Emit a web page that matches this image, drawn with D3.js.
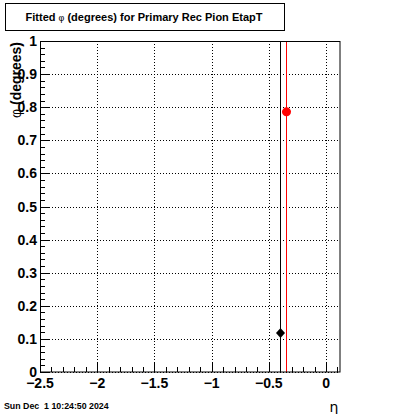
<!DOCTYPE html>
<html><head><meta charset="utf-8">
<script src="https://cdn.jsdelivr.net/npm/d3@7"></script>
<style>body{margin:0;background:#fff;} svg{display:block;}</style>
</head><body>
<script>
const title = "Fitted ";
const xTicks = [-2.5, -2, -1.5, -1, -0.5, 0];
const yTicks = [0, 0.1, 0.2, 0.3, 0.4, 0.5, 0.6, 0.7, 0.8, 0.9, 1];
const seriesNames = ["black", "red"];
const etaValues = [-0.405, -0.352];
const phiValues = [0.118, 0.786];
const phiErrors = [5, 5];
const colors = ["#000000", "#ff0000"];
const markers = ["diamond", "circle"];

const W = 400, H = 414;
const m = {l: 40, r: 60, t: 41, b: 42};
const svg = d3.select("body").append("svg").attr("width", W).attr("height", H);
svg.append("rect").attr("width", W).attr("height", H).attr("fill", "#fff");

const x = d3.scaleLinear().domain([-2.5, 0.122]).range([m.l, W - m.r]);
const y = d3.scaleLinear().domain([0, 1]).range([H - m.b, m.t]);

// title box
svg.append("rect").attr("x", 5.5).attr("y", 3.5).attr("width", 279).attr("height", 27)
  .attr("fill", "#fff").attr("stroke", "#000").attr("stroke-width", 1);
const tt = svg.append("text").attr("x", 144).attr("y", 21).attr("text-anchor", "middle")
  .attr("font-family", "Liberation Sans, Arial, sans-serif").attr("font-weight", "bold").attr("font-size", 11);
tt.append("tspan").text(title);
tt.append("tspan").attr("font-weight", "normal").attr("font-size", 9).text("φ");
tt.append("tspan").text(" (degrees) for Primary Rec Pion EtapT");

// grid
const g = svg.append("g");
g.selectAll(".gx").data(xTicks).join("line")
  .attr("x1", d => Math.round(x(d)) + 0.5).attr("x2", d => Math.round(x(d)) + 0.5)
  .attr("y1", y(1)).attr("y2", y(0))
  .attr("stroke", "#000").attr("stroke-dasharray", "1,2").attr("stroke-width", 1);
g.selectAll(".gy").data(yTicks).join("line")
  .attr("y1", d => Math.round(y(d)) + 0.5).attr("y2", d => Math.round(y(d)) + 0.5)
  .attr("x1", x.range()[0]).attr("x2", x.range()[1])
  .attr("stroke", "#000").attr("stroke-dasharray", "1,2").attr("stroke-width", 1);

// clip
svg.append("clipPath").attr("id", "clip").append("rect")
  .attr("x", m.l).attr("y", m.t).attr("width", W - m.l - m.r).attr("height", H - m.t - m.b);

const data = etaValues.map((e, i) => ({eta: e, phi: phiValues[i], err: phiErrors[i], c: colors[i], mk: markers[i]}));
const pg = svg.append("g").attr("clip-path", "url(#clip)");
pg.selectAll(".eb").data(data).join("line")
  .attr("x1", d => Math.round(x(d.eta)) + 0.5).attr("x2", d => Math.round(x(d.eta)) + 0.5)
  .attr("y1", d => y(d.phi - d.err)).attr("y2", d => y(d.phi + d.err))
  .attr("stroke", d => d.c).attr("stroke-width", 1);
pg.selectAll(".mk").data(data).join("path")
  .attr("transform", d => `translate(${Math.round(x(d.eta)) + 0.5},${y(d.phi)})`)
  .attr("d", d => d.mk === "circle" ? d3.symbol(d3.symbolCircle, 64)() :
        "M0,-5L4.5,0L0,5L-4.5,0Z")
  .attr("fill", d => d.c);

// frame
svg.append("rect").attr("x", m.l + 0.5).attr("y", m.t + 0.5)
  .attr("width", W - m.l - m.r - 0.5).attr("height", H - m.t - m.b - 0.5)
  .attr("fill", "none").attr("stroke", "#000").attr("stroke-width", 1);

// ticks
const xMinor = d3.range(-25, 2).map(i => i / 10);
svg.selectAll(".xt").data(xMinor).join("line")
  .attr("x1", d => Math.round(x(d)) + 0.5).attr("x2", d => Math.round(x(d)) + 0.5)
  .attr("y1", y(0)).attr("y2", d => y(0) - (Math.abs(d * 2 - Math.round(d * 2)) < 1e-6 ? 10 : 5))
  .attr("stroke", "#000");
const yMinor = d3.range(0, 51).map(i => i / 50);
svg.selectAll(".yt").data(yMinor).join("line")
  .attr("y1", d => Math.round(y(d)) + 0.5).attr("y2", d => Math.round(y(d)) + 0.5)
  .attr("x1", x.range()[0]).attr("x2", d => x.range()[0] + (Math.abs(d * 10 - Math.round(d * 10)) < 1e-6 ? 9 : 5))
  .attr("stroke", "#000");

const fmt = d => (d < 0 ? "\u2212" : "") + Math.abs(d);
svg.selectAll(".xl").data(xTicks).join("text")
  .attr("x", d => x(d)).attr("y", 388).attr("text-anchor", "middle")
  .attr("font-family", "Liberation Sans, Arial, sans-serif").attr("font-weight", "bold").attr("font-size", 14)
  .text(fmt);
svg.selectAll(".yl").data(yTicks).join("text")
  .attr("x", 37).attr("y", d => y(d) + 5).attr("text-anchor", "end")
  .attr("font-family", "Liberation Sans, Arial, sans-serif").attr("font-weight", "bold").attr("font-size", 14)
  .text(d => d);

// axis titles
const yt = svg.append("text").attr("transform", "translate(21,42) rotate(-90)").attr("text-anchor", "end")
  .attr("font-family", "Liberation Sans, Arial, sans-serif").attr("font-weight", "bold").attr("font-size", 14);
yt.append("tspan").attr("font-weight", "normal").text("φ");
yt.append("tspan").text(" (degrees)");
svg.append("text").attr("x", 334).attr("y", 412).attr("text-anchor", "middle")
  .attr("font-family", "DejaVu Sans, sans-serif").attr("font-size", 14).text("η");
svg.append("text").attr("x", 4).attr("y", 409)
  .attr("font-family", "Liberation Sans, Arial, sans-serif").attr("font-weight", "bold").attr("font-size", 8.8)
  .attr("xml:space", "preserve").style("white-space", "pre").text("Sun Dec  1 10:24:50 2024");
</script>
</body></html>
